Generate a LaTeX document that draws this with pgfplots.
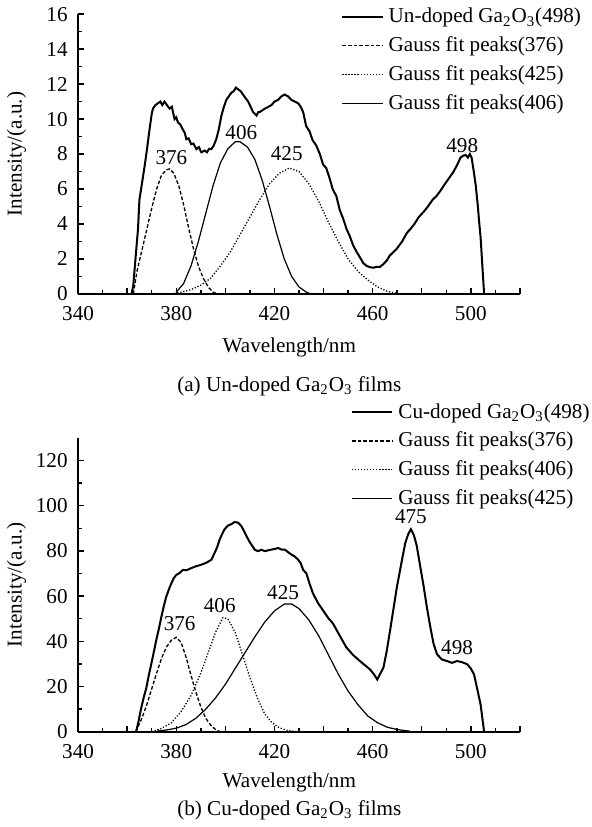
\documentclass[border=0pt]{standalone}
\usepackage{fontspec}
\setmainfont{Liberation Serif}
\usepackage{pgfplots}
\pgfplotsset{compat=1.18}

\pgfplotstableread{
x y
361.8 0
362.5 0.5
363.5 2.2
364.4 3.7
365.0 5.4
366.0 6.3
367.1 7.3
368.0 8.2
369.1 9.4
370.0 10.3
370.5 10.6
371.5 10.8
372.5 10.9
373.5 11.0
374.3 10.8
375.2 11.0
376.2 10.8
377.3 10.6
378.2 10.7
379.3 10.0
380.0 10.1
380.7 9.8
381.6 9.7
382.7 9.4
383.5 9.2
384.1 8.85
385.0 8.9
386.1 8.56
387.0 8.6
388.2 8.28
389.2 8.4
390.2 8.1
391.6 8.2
392.5 8.1
393.4 8.3
394.3 8.28
395.3 8.5
396.3 8.85
397.3 9.4
398.4 10.2
399.4 10.7
400.4 11.1
401.4 11.3
402.4 11.5
403.4 11.6
404.3 11.8
405.2 11.7
406.2 11.6
407.2 11.4
408.2 11.2
409.3 11.0
410.3 10.7
411.3 10.4
412.0 10.3
412.7 10.2
413.4 10.4
414.0 10.4
415.0 10.5
416.1 10.6
417.5 10.7
418.8 10.8
420.0 11.0
421.5 11.1
422.8 11.3
424.2 11.4
425.5 11.3
426.9 11.1
428.3 11.0
429.7 10.9
430.7 10.7
431.7 10.4
432.9 9.6
434.3 9.3
435.5 8.8
437.0 8.5
438.5 8.0
439.8 7.4
441.1 7.2
442.5 6.6
443.7 6.0
445.2 5.6
446.6 4.8
448.0 4.3
449.4 3.7
450.7 3.3
452.0 2.8
453.5 2.4
454.8 2.1
456.2 1.76
457.6 1.6
458.9 1.53
460.3 1.5
461.6 1.55
463.0 1.55
464.3 1.7
465.7 1.9
467.0 2.2
468.5 2.4
469.9 2.6
472.0 3.0
474.0 3.5
475.3 3.7
477.0 4.0
478.8 4.4
480.8 4.7
482.5 5.0
484.5 5.4
486.0 5.6
487.6 5.9
489.0 6.2
490.5 6.5
492.0 6.8
493.0 7.0
494.5 7.4
495.8 7.8
496.8 7.9
497.9 7.95
498.8 7.8
499.6 8.0
500.3 7.8
501.2 7.0
502.0 6.2
502.8 5.1
503.4 4.1
504.0 3.2
504.6 1.8
505.4 0
}\undoped

\pgfplotstableread{
x y
363.3 0
363.7 0.3
364.7 5
365.7 10.4
366.7 15
367.8 19.4
368.8 25
369.8 29.9
370.8 35
371.8 40.3
372.9 45.5
373.9 50.7
374.9 55.5
375.9 59.7
377.0 63
378.0 65.7
379.0 68
380.0 69.4
381.3 70.2
382.7 71.6
384.3 71.5
386.1 72.4
388.0 73.2
390.2 73.9
392.3 74.8
394.3 76.1
395.6 79.1
396.6 81.5
397.7 85.1
398.7 87.5
399.7 89.6
401.0 91.2
402.4 91.8
403.8 92.8
405.2 92.5
406.5 91
407.5 89
408.6 86.6
409.6 84.5
410.6 82.8
412.0 80.5
413.3 79.9
414.7 80.5
416.1 79.9
417.5 80.3
418.8 80.6
420.2 80.9
421.5 81.3
422.9 80.6
424.2 80.6
425.5 79.5
426.9 78.4
428.3 77.5
429.7 76.1
430.7 74.5
431.7 71.6
433.0 70.1
434.3 65.5
435.7 61.2
437.7 57
439.8 53.7
441.8 50.5
443.9 47.8
446.6 42.5
449.3 37.3
452.0 34
454.8 31.3
456.8 29.5
458.9 27.6
460.5 25.5
461.9 23.1
463.0 25.5
464.4 28.4
465.7 35.5
467.1 44.8
468.5 54.5
469.9 64.2
471.6 74
473.3 83.6
474.5 87.5
475.6 89.6
476.8 87
478.0 82.1
479.4 73
480.8 64.2
482.1 55
483.5 46.3
484.8 39
486.2 34.3
488.2 32
490.3 31.3
492.3 30.5
494.4 31.3
496.4 30.8
498.5 29.9
500.0 28
501.3 25.4
502.7 18.5
504.0 11.9
504.7 6
505.4 0
}\cudoped

\pgfplotsset{
  spec/.style={
    scale only axis, width=219.5pt,
    xmin=340, xmax=520,
    axis x line=bottom, axis y line=left,
    axis line style={-, line width=0.7pt},
    tick align=inside,
    tick style={line width=0.7pt, black},
    major tick length=3pt, minor tick length=1.8pt,
    xtick={340,360,...,520},
    xticklabels={340,,380,,420,,460,,500,},
    minor x tick num=1, minor y tick num=1,
    clip=false,
    /pgf/number format/assume math mode=true,
    xticklabel style={yshift=-2.5pt},
    yticklabel style={xshift=-1.5pt},
    xlabel={Wavelength/nm}, ylabel={Intensity/(a.u.)},
    y label style={at={(axis description cs:-0.139,0.5)}, anchor=center},
    legend cell align=left,
    legend style={draw=none, fill=none, inner sep=0pt, anchor=north west,
      row sep=3.3pt, column sep=1.5pt, nodes={inner sep=1pt}},
    legend image code/.code={\draw[##1] (0pt,0pt) -- (20pt,0pt);},
  },
}
\tikzset{
  data/.style={black, line width=1pt},
  gdash/.style={black, line width=0.65pt, dash pattern=on 1.8pt off 1pt},
  gdot/.style={black, line width=0.65pt, dash pattern=on 0.6pt off 0.9pt},
  gline/.style={black, line width=0.6pt},
  pk/.style={anchor=center, inner sep=0pt},
}

\begin{document}
\fontsize{10.5}{12.6}\selectfont
\begin{tikzpicture}
\begin{axis}[spec,
  height=139pt, ymin=0, ymax=16, ytick={0,2,...,16},
  x label style={at={(axis description cs:0.478,-0.19)}, anchor=center},
  legend style={at={(rel axis cs:0.595,1.03)}},
]
\addplot[data] table {\undoped};
\addlegendentry{Un-doped Ga\textsubscript{2}O\textsubscript{3}(498)}
\addplot[gdash] coordinates {
  (362.5,0) (364,1.3) (366,2.5) (368,3.7) (370,4.9) (372,6.0) (374,6.8)
  (376,7.1) (377.3,7.15) (379,6.9) (381,6.2) (383,5.1) (385,3.8) (387,2.6)
  (389,1.6) (391,0.9) (393,0.4) (395,0.1) (397,0)
};
\addlegendentry{Gauss fit peaks(376)}
\addplot[gdot] coordinates {
  (378,0) (382,0.1) (386,0.25) (390,0.5) (394,0.9) (398,1.6) (402,2.4)
  (406,3.4) (410,4.4) (414,5.4) (418,6.3) (422,6.9) (426,7.2) (430,7.0)
  (434,6.3) (438,5.3) (442,4.1) (446,3.0) (450,2.0) (454,1.3) (458,0.8)
  (462,0.4) (466,0.15) (470,0.03)
};
\addlegendentry{Gauss fit peaks(425)}
\addplot[gline] coordinates {
  (380,0.1) (383,0.6) (386,1.6) (389,3.0) (392,4.6) (395,6.2) (398,7.5)
  (401,8.3) (404,8.7) (406,8.7) (409,8.4) (412,7.7) (415,6.5) (418,5.0)
  (421,3.4) (424,2.0) (427,1.0) (430,0.4) (433,0.1) (435,0)
};
\addlegendentry{Gauss fit peaks(406)}
\node[pk] at (axis cs:378,7.8) {376};
\node[pk] at (axis cs:406.5,9.25) {406};
\node[pk] at (axis cs:425,8.0) {425};
\node[pk] at (axis cs:496.5,8.5) {498};
\node at (axis description cs:0.478,-0.33) {(a) Un-doped Ga\textsubscript{2}O\textsubscript{3} films};
\end{axis}

\begin{axis}[spec, at={(0pt,-217.5pt)},
  height=146pt, ymin=0, ymax=130, ytick={0,20,...,120},
  x label style={at={(axis description cs:0.478,-0.171)}, anchor=center},
  legend style={at={(rel axis cs:0.617,1.125)}},
]
\addplot[data] table {\cudoped};
\addlegendentry{Cu-doped Ga\textsubscript{2}O\textsubscript{3}(498)}
\addplot[gdash] coordinates {
  (363.5,0) (366,6) (368,12) (370,19) (372,26) (374,32.5) (376,37.5)
  (378,40.5) (380,41.8) (382,39.5) (384,33) (386,25) (388,17.5) (390,11)
  (392,6) (394,3) (396,1) (398,0)
};
\addlegendentry{Gauss fit peaks(376)}
\addplot[gdot] coordinates {
  (370,0) (374,1.5) (378,4) (382,9) (386,16) (390,26) (393,35) (396,44)
  (399,50.5) (401,50) (404,44) (407,34) (410,24) (413,15) (416,8) (419,4)
  (422,1.8) (425,0.7) (428,0.2) (430,0)
};
\addlegendentry{Gauss fit peaks(406)}
\addplot[gline] coordinates {
  (372,0.3) (376,0.8) (380,1.6) (384,3.2) (388,6) (392,10) (396,15) (400,21)
  (404,28) (408,35) (412,42) (416,48.5) (420,53.5) (424,56.5) (427,56.5)
  (430,54.5) (434,49.5) (438,42.5) (442,34) (446,25.5) (450,18) (454,12)
  (458,7) (462,4) (466,2) (470,1) (475,0.3)
};
\addlegendentry{Gauss fit peaks(425)}
\node[pk] at (axis cs:381.4,47.8) {376};
\node[pk] at (axis cs:397.7,56) {406};
\node[pk] at (axis cs:423.5,61.5) {425};
\node[pk] at (axis cs:475.6,95.2) {475};
\node[pk] at (axis cs:494.4,37.3) {498};
\node at (axis description cs:0.478,-0.267) {(b) Cu-doped Ga\textsubscript{2}O\textsubscript{3} films};
\end{axis}
\end{tikzpicture}
\end{document}
